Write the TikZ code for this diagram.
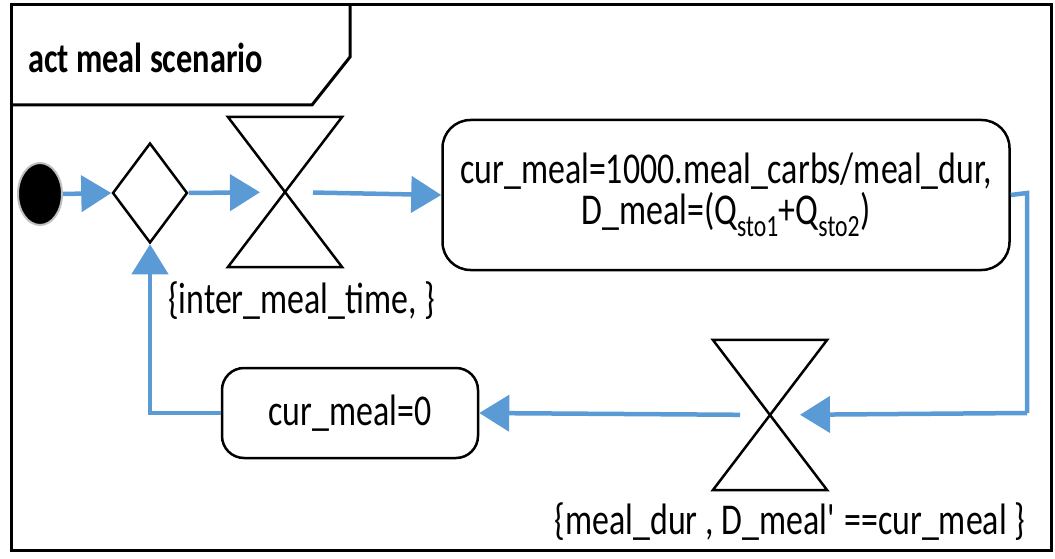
\documentclass[tikz,border=0pt]{standalone}
\usepackage{fontspec}
\setmainfont{Carlito}[FakeStretch=0.77]
\usetikzlibrary{arrows.meta,shapes.geometric,calc}
\definecolor{flowblue}{RGB}{91,155,213}
\begin{document}
\begin{tikzpicture}[x=1pt,y=-1pt,
  flow/.style={draw=flowblue,line width=4.5pt,-{Triangle[length=30pt,width=36pt]}},
  flowline/.style={draw=flowblue,line width=4.5pt},
  actbox/.style={draw=black,line width=2.5pt,rounded corners=28pt,align=center,font=\fontsize{44}{41}\selectfont},
  hglass/.style={minimum width=114pt,minimum height=150pt,inner sep=0pt},
  dec/.style={diamond,draw=black,line width=2.5pt,minimum width=75pt,minimum height=100pt,inner sep=0pt,aspect=0.75},
  lbl/.style={font=\fontsize{44}{41}\selectfont,inner sep=0pt},
  every node/.style={text=black}]
\useasboundingbox (0,0) rectangle (1055,559);
% frame
\draw[line width=3pt] (11,5) rectangle (1051,550);
\draw[line width=3pt] (11,105) -- (312,105) -- (350,57) -- (350,5);
\node[anchor=west,font=\bfseries\fontsize{42}{46}\selectfont,inner sep=0pt] (title) at (28,58) {act meal scenario};
% nodes
\node[ellipse,fill=black,draw=black!25,line width=2pt,minimum width=44pt,minimum height=62pt,inner sep=0pt] (init) at (40,194) {};
\node[dec] (dia) at (150,193) {};
\node[hglass] (h1) at (285,192) {};
\draw[line width=2.5pt,line join=miter] (h1.north west) -- (h1.north east) -- (h1.south west) -- (h1.south east) -- cycle;
\node[lbl,anchor=north west] (l1) at (168,282) {\{inter\_meal\_time, \}};
\node[actbox,minimum width=567pt,minimum height=150pt] (b1) at (726,195) {cur\_meal=1000.meal\_carbs/meal\_dur,\\D\_meal=(Q\textsubscript{sto1}+Q\textsubscript{sto2})};
\node[hglass] (h2) at (770,415) {};
\draw[line width=2.5pt,line join=miter] (h2.north west) -- (h2.north east) -- (h2.south west) -- (h2.south east) -- cycle;
\node[lbl,anchor=north] (l2) at (790,502) {\{meal\_dur , D\_meal\textquotesingle{} ==cur\_meal \}};
\node[actbox,minimum width=256pt,minimum height=90pt,rounded corners=22pt] (b2) at (350,413) {cur\_meal=0};
\coordinate (c1) at (1027,193);
\coordinate (c2) at (1027,413);
% connectors
\draw[flow] (init.east) -- (dia.west);
\draw[flow,shorten >=25pt] (dia.east) -- (h1.center);
\draw[flow,shorten <=28pt] (h1.center) -- (b1.west);
\draw[flowline] (b1.east) -- (c1) -- (c2);
\draw[flow,shorten >=30pt] (c2) -- (h2.center);
\draw[flow,shorten <=30pt] (h2.center) -- (b2.east);
\draw[flow] (b2.west) -| (dia.south);
\end{tikzpicture}
\end{document}
